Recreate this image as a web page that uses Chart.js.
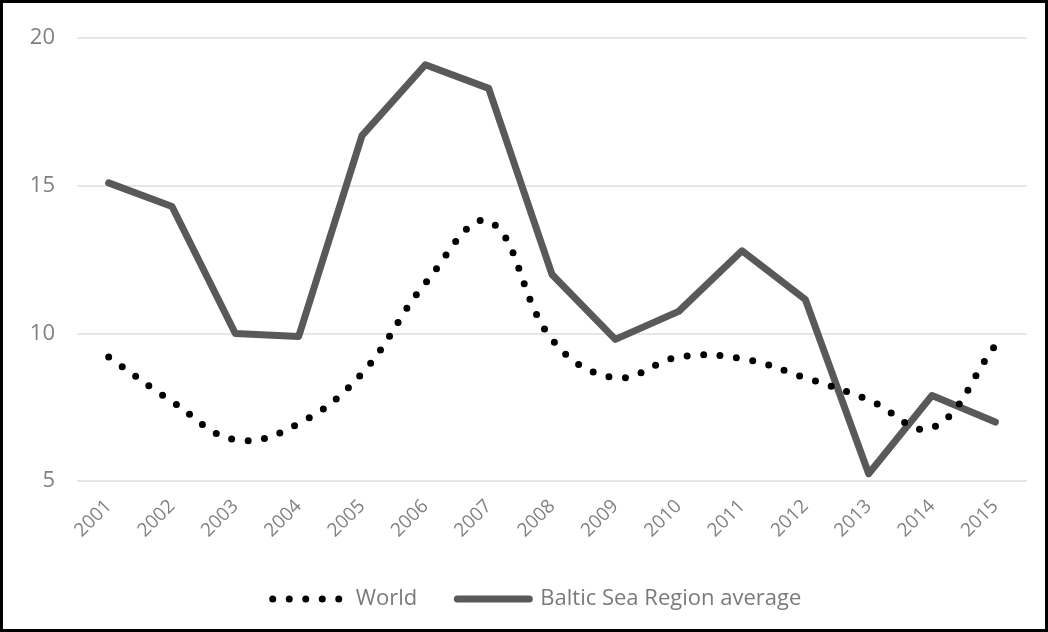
<!DOCTYPE html>
<html>
<head>
<meta charset="utf-8">
<script src="https://cdn.jsdelivr.net/npm/chart.js@4.4.1/dist/chart.umd.min.js"></script>
<style>
  html, body { margin: 0; padding: 0; background: #fff; }
  #wrap { width: 1048px; height: 632px; box-sizing: border-box; border: 3px solid #000; position: relative; }
</style>
</head>
<body>
<div id="wrap"><canvas id="chart" width="1042" height="626"></canvas></div>
<script>
const years = ['2001', '2002', '2003', '2004', '2005', '2006', '2007', '2008', '2009', '2010', '2011', '2012', '2013', '2014', '2015'];
const world = [9.2, 7.7, 6.4, 6.95, 8.65, 11.7, 13.8, 9.8, 8.5, 9.2, 9.15, 8.5, 7.75, 6.8, 9.6];
const baltic = [15.1, 14.3, 10.0, 9.9, 16.7, 19.1, 18.3, 12.0, 9.8, 10.75, 12.8, 11.15, 5.25, 7.9, 7.0];
const yTicks = [5, 10, 15, 20];

// nudge the legend a bit to the right, like the original
const legendShift = {
    id: 'legendShift',
    afterUpdate(chart) {
        const lg = chart.legend;
        lg.left += 22;
        lg.right += 22;
        lg.adjustHitBoxes();
    }
};

const ctx = document.getElementById('chart').getContext('2d');
const chart = new Chart(ctx, {
    type: 'line',
    data: {
        labels: years,
        datasets: [
            {
                label: 'World',
                data: world,
                borderColor: '#000',
                borderWidth: 7,
                borderDash: [0, 16.5], // round dots
                borderCapStyle: 'round',
                tension: 0.4,
                pointRadius: 0,
                fill: false
            },
            {
                label: 'Baltic Sea Region average',
                data: baltic,
                borderColor: '#595959',
                borderWidth: 7,
                borderCapStyle: 'round',
                borderJoinStyle: 'round',
                tension: 0,
                pointRadius: 0,
                fill: false
            }
        ]
    },
    options: {
        responsive: false,
        animation: false,
        layout: { padding: { left: 0, right: 18, top: 30, bottom: 9 } },
        scales: {
            y: {
                min: 5,
                max: 20,
                afterBuildTicks: axis => { axis.ticks = yTicks.map(v => ({ value: v })); },
                afterFit: axis => { axis.width = 74; },
                border: { display: false },
                grid: { color: '#e6e6e6', lineWidth: 2, drawTicks: false },
                ticks: {
                    color: '#808080',
                    padding: 22,
                    font: { family: 'Open Sans', size: 22 }
                }
            },
            x: {
                offset: true,
                border: { display: false },
                grid: { display: false },
                ticks: {
                    color: '#808080',
                    maxRotation: 45,
                    minRotation: 45,
                    autoSkip: false,
                    padding: 6,
                    font: { family: 'Open Sans', size: 19 }
                }
            }
        },
        plugins: {
            legend: {
                position: 'bottom',
                labels: {
                    color: '#7a7a7a',
                    usePointStyle: true,
                    pointStyle: 'line',
                    pointStyleWidth: 72,
                    boxHeight: 8,
                    padding: 40,
                    font: { family: 'Open Sans', size: 22 },
                    generateLabels: c => {
                        const items = Chart.defaults.plugins.legend.labels.generateLabels(c);
                        items.forEach(it => {
                            const ds = c.data.datasets[it.datasetIndex];
                            it.lineDash = ds.borderDash || [];
                            it.lineCap = ds.borderCapStyle;
                        });
                        return items;
                    }
                }
            },
            tooltip: { enabled: false }
        }
    },
    plugins: [legendShift]
});
</script>
</body>
</html>
